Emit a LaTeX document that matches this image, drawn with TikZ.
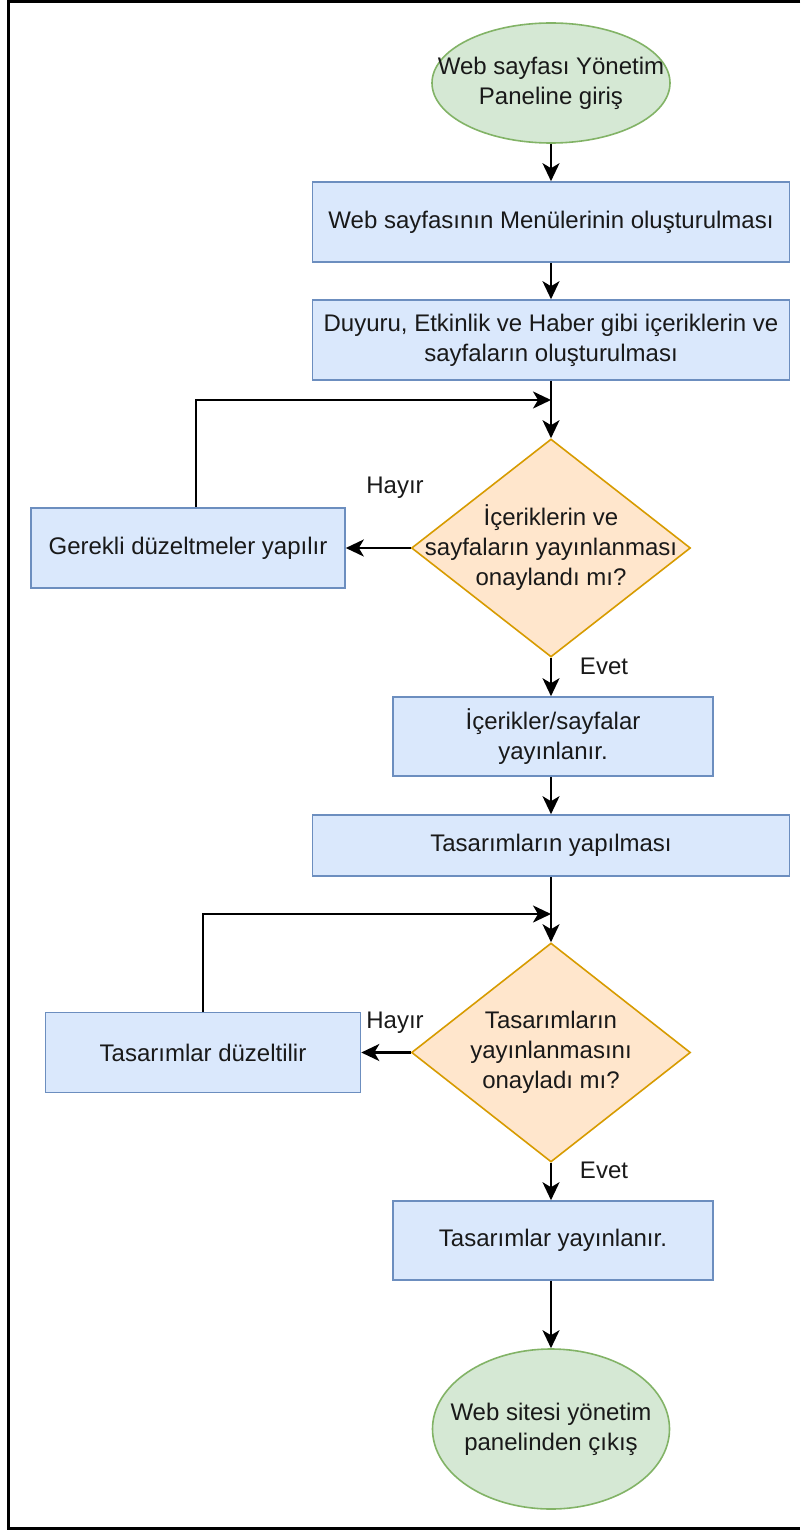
\documentclass[tikz,border=0pt]{standalone}
\usepackage{fontspec}
\setmainfont{Liberation Sans}
\usetikzlibrary{shapes.geometric,arrows.meta}
\definecolor{bfill}{HTML}{DAE8FC}
\definecolor{bdraw}{HTML}{6C8EBF}
\definecolor{gfill}{HTML}{D5E8D4}
\definecolor{gdraw}{HTML}{82B366}
\definecolor{ofill}{HTML}{FFE6CC}
\definecolor{odraw}{HTML}{D79B00}
\tikzset{
  txt/.style={font=\fontsize{24}{30}\selectfont, text=black!90, align=center},
  procbox/.style={txt, rectangle, draw=bdraw, fill=bfill, line width=1.6pt, inner sep=0pt},
  termbox/.style={ellipse, draw=gdraw, fill=gfill, line width=1.6pt, inner sep=0pt},
  decbox/.style={diamond, draw=odraw, fill=ofill, line width=1.6pt, inner sep=0pt},
  conn/.style={line width=2.4pt, draw=black, -{Stealth[length=18pt,width=17pt,inset=5pt]}},
  lbl/.style={txt, inner sep=0pt}
}
\begin{document}
\begin{tikzpicture}[x=1pt,y=-1pt]
\useasboundingbox (0,0) rectangle (800,1530);
\draw[line width=3pt] (800,2) -- (8,2) -- (8,1528) -- (800,1528);

\node[termbox, minimum width=238pt, minimum height=120pt] (start) at (551,83) {};
\node[lbl] (startt) at (start.center) {Web sayfası Yönetim\\Paneline giriş};
\node[procbox, minimum width=477pt, minimum height=80pt] (b1) at (551,222) {Web sayfasının Menülerinin oluşturulması};
\node[procbox, minimum width=477pt, minimum height=80pt] (b2) at (551,340) {Duyuru, Etkinlik ve Haber gibi içeriklerin ve\\sayfaların oluşturulması};
\node[decbox, minimum width=279pt, minimum height=218pt] (d1) at (551,548) {};
\node[lbl] (d1t) at (d1.center) {İçeriklerin ve\\sayfaların yayınlanması\\onaylandı mı?};
\node[procbox, minimum width=314pt, minimum height=80pt] (g1) at (188,548) {Gerekli düzeltmeler yapılır};
\node[procbox, minimum width=320pt, minimum height=79pt] (b3) at (553,736.5) {İçerikler/sayfalar\\yayınlanır.};
\node[procbox, minimum width=477pt, minimum height=61pt] (b4) at (551,845.5) {Tasarımların yapılması};
\node[decbox, minimum width=279pt, minimum height=219pt] (d2) at (551,1052.5) {};
\node[lbl] (d2t) at (d2.center) {Tasarımların\\yayınlanmasını\\onayladı mı?};
\node[procbox, minimum width=315pt, minimum height=80pt] (g2) at (203,1052.5) {Tasarımlar düzeltilir};
\node[procbox, minimum width=320pt, minimum height=79pt] (b5) at (553,1240.5) {Tasarımlar yayınlanır.};
\node[termbox, minimum width=237pt, minimum height=160pt] (end) at (551,1429) {};
\node[lbl] (endt) at (end.center) {Web sitesi yönetim\\panelinden çıkış};

\coordinate (m1) at (551,400);
\coordinate (m2) at (551,914);

\draw[conn] (start.south) -- (b1.north);
\draw[conn] (b1.south) -- (b2.north);
\draw[conn] (b2.south) -- (d1.north);
\draw[conn] (d1.west) -- (g1.east);
\draw[conn] (g1.north -| 196,0) |- (m1);
\draw[conn] (d1.south) -- (b3.north -| d1.south);
\draw[conn] (b3.south -| b4.north) -- (b4.north);
\draw[conn] (b4.south) -- (d2.north);
\draw[conn] (d2.west) -- (g2.east);
\draw[conn] (g2.north) |- (m2);
\draw[conn] (d2.south) -- (b5.north -| d2.south);
\draw[conn] (b5.south -| end.north) -- (end.north);

\node[lbl] (h1) at (395,488) {Hayır};
\node[lbl] (e1) at (604,666) {Evet};
\node[lbl] (h2) at (395,1023) {Hayır};
\node[lbl] (e2) at (604,1170) {Evet};
\end{tikzpicture}
\end{document}
